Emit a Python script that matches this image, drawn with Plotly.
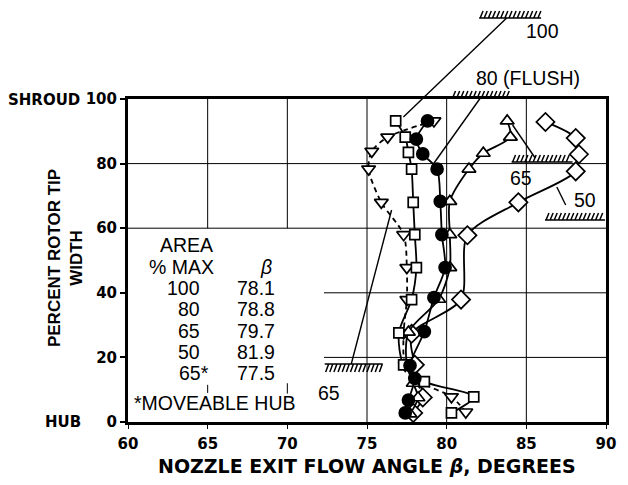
import plotly.graph_objects as go

# ---------------- data ----------------
pct_100 = [93.2, 88.2, 83.5, 78.3, 68.0, 58.0, 47.8, 37.9, 27.6, 17.7, 12.5, 7.8, 2.8]
beta_100 = [76.8, 77.4, 77.6, 77.8, 77.9, 78.0, 78.1, 77.8, 77.0, 77.3, 78.6, 81.7, 80.3]

pct_80 = [93.2, 87.6, 83.0, 78.3, 68.3, 58.0, 47.8, 38.5, 28.0, 17.5, 13.5, 6.8, 2.8]
beta_80 = [78.8, 78.1, 78.5, 79.4, 79.6, 79.7, 79.9, 79.2, 78.6, 77.7, 78.0, 77.6, 77.4]

pct_65 = [93.2, 88.2, 83.2, 78.3, 68.3, 58.0, 47.8, 38.0, 27.8, 17.5, 12.0, 7.5, 2.5]
beta_65 = [83.8, 84.0, 82.3, 81.4, 80.2, 80.2, 80.2, 79.5, 77.6, 77.5, 77.9, 78.2, 77.7]

pct_50 = [92.9, 87.9, 82.9, 77.6, 68.0, 57.8, 37.9, 27.3, 17.7, 7.6, 2.8]
beta_50 = [86.2, 88.1, 88.3, 88.1, 84.5, 81.3, 80.9, 77.8, 78.0, 78.5, 77.9]

pct_65m = [93.2, 88.2, 83.8, 78.3, 68.0, 58.0, 47.8, 37.9, 27.6, 17.5, 12.5, 7.8, 3.1]
beta_65m = [79.2, 76.3, 75.3, 75.1, 75.9, 77.3, 77.5, 77.5, 77.3, 77.4, 78.3, 80.3, 81.2]

table_area = ["100", "80", "65", "50", "65*"]
table_beta = ["78.1", "78.8", "79.7", "81.9", "77.5"]

x_ticks = [60, 65, 70, 75, 80, 85, 90]
y_ticks = [0, 20, 40, 60, 80, 100]

# ---------------- figure ----------------
W, H = 628, 485
L, R, T, B = 128, 14, 99, 63
PW, PH = W - L - R, H - T - B


def px(x):
    return (x - L) / PW


def py(y):
    return (H - B - y) / PH


FONT = "Liberation Sans, Arial, sans-serif"
BFONT = "DejaVu Sans, Liberation Sans, sans-serif"
fig = go.Figure()

line_common = dict(color="black", width=1.8, shape="spline", smoothing=0.8)


def add_series(xs, ys, symbol, size, fill, dash="solid", name=""):
    fig.add_trace(go.Scatter(
        x=xs, y=ys, mode="lines+markers", name=name,
        line=dict(dash=dash, **line_common),
        marker=dict(symbol=symbol, size=size, color=fill,
                    line=dict(color="black", width=1.7)),
        showlegend=False, cliponaxis=False))


add_series(beta_65m, pct_65m, "triangle-down", 12, "white", dash="5px,4px", name="65*")
add_series(beta_50, pct_50, "diamond", 14, "white", name="50")
add_series(beta_65, pct_65, "triangle-up", 12, "white", name="65")
add_series(beta_100, pct_100, "square", 10, "white", name="100")
add_series(beta_80, pct_80, "circle", 12, "black", name="80")

shapes = []
# grid lines (partly hidden behind the table, as in the original)
for xv in [65, 70]:
    shapes.append(dict(type="line", xref="x", yref="y", x0=xv, x1=xv, y0=60, y1=100,
                       line=dict(color="black", width=1), layer="below"))
shapes.append(dict(type="line", xref="x", yref="y", x0=65, x1=65, y0=9, y1=11.5,
                   line=dict(color="black", width=1), layer="below"))
shapes.append(dict(type="line", xref="x", yref="y", x0=70, x1=70, y0=8.8, y1=12,
                   line=dict(color="black", width=1), layer="below"))
for xv in [75, 80, 85]:
    shapes.append(dict(type="line", xref="x", yref="y", x0=xv, x1=xv, y0=0, y1=100,
                       line=dict(color="black", width=1), layer="below"))
for yv in [60, 80]:
    shapes.append(dict(type="line", xref="x", yref="y", x0=60, x1=90, y0=yv, y1=yv,
                       line=dict(color="black", width=1), layer="below"))
for yv in [20, 40]:
    shapes.append(dict(type="line", xref="x", yref="y", x0=72.3, x1=90, y0=yv, y1=yv,
                       line=dict(color="black", width=1), layer="below"))


def hatch(x0, x1, y, up=True):
    # base line + short slanted ticks, pixel coords converted to paper
    d = f"M{px(x0)},{py(y)} L{px(x1)},{py(y)} "
    step = 4.2
    h = 7 if up else 8
    xx = x0 + 1
    while xx + 3 <= x1:
        if up:
            d += f"M{px(xx)},{py(y)} L{px(xx + 3)},{py(y - h)} "
        else:
            d += f"M{px(xx)},{py(y + h)} L{px(xx + 3)},{py(y)} "
        xx += step
    shapes.append(dict(type="path", xref="paper", yref="paper", path=d,
                       line=dict(color="black", width=1.5)))


hatch(485, 548, 18)
hatch(457, 517, 98)
hatch(518, 580, 162)
hatch(552, 613, 220)
hatch(328, 387, 364, up=False)


def leader(x0, y0, x1, y1):
    shapes.append(dict(type="line", xref="paper", yref="paper",
                       x0=px(x0), y0=py(y0), x1=px(x1), y1=py(y1),
                       line=dict(color="black", width=1.4)))


leader(513, 18, 408, 117)
leader(487, 97, 437, 166)
leader(519, 125, 542, 158)
leader(564, 187, 573, 205)
leader(355, 364, 396, 210)

fig.update_layout(shapes=shapes)

ann = []


def text(x, y, s, size=19.5, xanchor="center", bold=False, italic=False, family=FONT):
    if bold:
        s = f"<b>{s}</b>"
    if italic:
        s = f"<i>{s}</i>"
    ann.append(dict(x=px(x), y=py(y), xref="paper", yref="paper", text=s,
                    showarrow=False, xanchor=xanchor, yanchor="middle",
                    font=dict(family=family, size=size, color="black")))


text(549, 31, "100")
text(535, 78, "80 (FLUSH)")
text(528, 178, "65")
text(593, 200, "50")
text(332, 393, "65")

# table
text(187, 245, "AREA")
text(182, 267, "% MAX")
text(268, 267, "β", italic=True)
row_y = [288, 309, 331, 352, 373]
for a, b, yy in zip(table_area, table_beta, row_y):
    if a.endswith("*"):
        text(212, yy, a, xanchor="right")
    else:
        text(203, yy, a, xanchor="right")
    text(279, yy, b, xanchor="right")
text(132, 403, "*MOVEABLE HUB", xanchor="left")

# axis side labels
text(81, 100, "SHROUD", size=15, xanchor="right", bold=True, family=BFONT)
text(82, 422, "HUB", size=15, xanchor="right", bold=True, family=BFONT)
ann.append(dict(x=px(64), y=py(258), xref="paper", yref="paper",
                text="<b>PERCENT ROTOR TIP<br>WIDTH</b>", showarrow=False,
                textangle=-90, font=dict(family=FONT, size=17, color="black"),
                xanchor="center", yanchor="middle"))
ann.append(dict(x=px(371), y=py(466), xref="paper", yref="paper",
                text="<b>NOZZLE EXIT FLOW ANGLE <i>β</i>, DEGREES</b>", showarrow=False,
                font=dict(family=BFONT, size=19, color="black"),
                xanchor="center", yanchor="middle"))

fig.update_layout(
    annotations=ann,
    width=W, height=H,
    margin=dict(l=L, r=R, t=T, b=B, pad=0),
    paper_bgcolor="white", plot_bgcolor="white",
    xaxis=dict(range=[60, 90], tickvals=x_ticks, showgrid=False, zeroline=False,
               showline=True, linewidth=3, linecolor="black", mirror=True,
               ticks="outside", ticklen=4, tickwidth=1.2, tickcolor="black",
               tickfont=dict(family=BFONT, size=15, color="black", weight="bold"),
               ticklabelstandoff=2),
    yaxis=dict(range=[0, 100], tickvals=y_ticks, showgrid=False, zeroline=False,
               showline=True, linewidth=3, linecolor="black", mirror=True,
               ticks="outside", ticklen=5, tickwidth=1.5, tickcolor="black",
               tickfont=dict(family=BFONT, size=15, color="black", weight="bold")),
)

fig.write_html("out.html")
